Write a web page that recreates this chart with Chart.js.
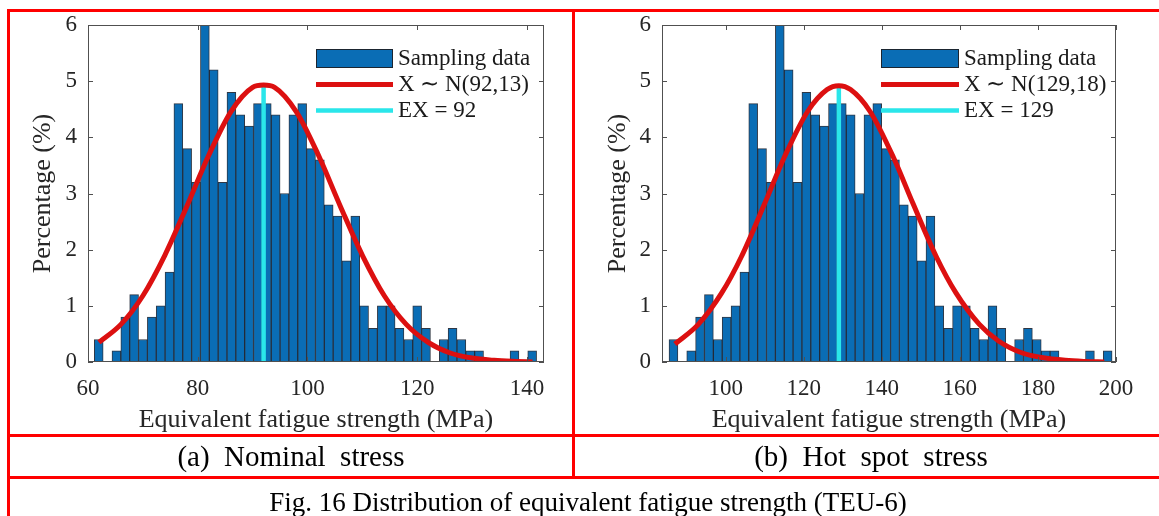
<!DOCTYPE html>
<html>
<head>
<meta charset="utf-8">
<script src="https://cdn.jsdelivr.net/npm/chart.js@4.4.1/dist/chart.umd.min.js"></script>
<style>
  html, body { margin: 0; padding: 0; background: #fff; }
  body { width: 1159px; height: 516px; position: relative; overflow: hidden;
         font-family: "Liberation Serif", "Times New Roman", serif; }
  .pane { position: absolute; top: 0; }
  .rl { position: absolute; background: #ff0000; z-index: 5; }
  .cap { position: absolute; text-align: center; color: #000; white-space: pre; }
</style>
</head>
<body>
<div class="pane" style="left:0"><canvas id="chartA" width="573" height="445"></canvas></div>
<div class="pane" style="left:573px"><canvas id="chartB" width="586" height="445"></canvas></div>

<div class="rl" style="left:7px;top:9px;width:1160px;height:3px"></div>
<div class="rl" style="left:7px;top:9px;width:3px;height:510px"></div>
<div class="rl" style="left:572px;top:9px;width:3px;height:469px"></div>
<div class="rl" style="left:7px;top:434px;width:1160px;height:3px"></div>
<div class="rl" style="left:7px;top:476px;width:1160px;height:3px"></div>

<div class="cap" style="left:9px;width:564px;top:436px;height:40px;line-height:40px;font-size:29px">(a)  Nominal  stress</div>
<div class="cap" style="left:574px;width:594px;top:436px;height:40px;line-height:40px;font-size:29px">(b)  Hot  spot  stress</div>
<div class="cap" style="left:9px;width:1158px;top:479px;height:46px;line-height:46px;font-size:27px">Fig. 16 Distribution of equivalent fatigue strength (TEU-6)</div>

<script>
// histogram: 50 bins, percentage of samples per bin
const binStartNominal = 61.15, binWidthNominal = 1.612;
const pctNominal = [0.4, 0, 0.2, 0.8, 1.2, 0.4, 0.8, 1.0, 1.6, 4.6,
                    3.8, 3.2, 6.0, 5.2, 3.2, 4.8, 4.4, 4.2, 4.6, 4.6,
                    4.4, 3.0, 4.4, 4.6, 3.8, 3.6, 2.8, 2.6, 1.8, 2.6,
                    1.0, 0.6, 1.0, 1.0, 0.6, 0.4, 1.0, 0.6, 0, 0.4,
                    0.6, 0.4, 0.2, 0.2, 0, 0, 0, 0.2, 0, 0.2];
const binStartHot = 85.5, binWidthHot = 2.27;
const pctHot = [0.4, 0, 0.2, 0.8, 1.2, 0.4, 0.8, 1.0, 1.6, 4.6,
                3.8, 3.2, 6.0, 5.2, 3.2, 4.8, 4.4, 4.2, 4.6, 4.6,
                4.4, 3.0, 4.4, 4.6, 3.8, 3.6, 2.8, 2.6, 1.8, 2.6,
                1.0, 0.6, 1.0, 1.0, 0.6, 0.4, 1.0, 0.6, 0, 0.4,
                0.6, 0.4, 0.2, 0.2, 0, 0, 0, 0.2, 0, 0.2];

// fitted normal curves
const fitXNominal = [62, 66, 70, 74, 78, 82, 86, 90, 92, 94, 98, 102, 106, 110, 114, 118, 122, 126, 130, 134, 138, 141];
const fitYNominal = [0.35, 0.67, 1.18, 1.90, 2.77, 3.68, 4.45, 4.89, 4.93, 4.89, 4.45, 3.68, 2.77, 1.90, 1.18, 0.67, 0.35, 0.16, 0.07, 0.03, 0.01, 0.0];
const fitXHot = [87, 93, 99, 104, 110, 115, 121, 126, 129, 132, 137, 143, 148, 154, 159, 165, 170, 176, 181, 187, 192, 197];
const fitYHot = [0.32, 0.67, 1.23, 1.87, 2.82, 3.64, 4.46, 4.85, 4.92, 4.85, 4.46, 3.64, 2.82, 1.87, 1.23, 0.67, 0.37, 0.16, 0.08, 0.03, 0.01, 0.0];

const meanNominal = 92, meanHot = 129, meanLineTop = 4.9;

const xTicksNominal = [60, 80, 100, 120, 140];
const xTicksHot = [100, 120, 140, 160, 180, 200];
const yTicks = [0, 1, 2, 3, 4, 5, 6];

const FONT = '"Liberation Serif", "Times New Roman", serif';
const TEXT = '#262626';
const BAR = '#0a6db5';
const RED = '#dc1010';
const CYAN = '#2ae6ea';

const boxTicks = {
  id: 'boxTicks',
  afterDatasetsDraw(chart) {
    const { ctx, chartArea: a, scales } = chart;
    ctx.save();
    ctx.strokeStyle = '#505050';
    ctx.lineWidth = 1;
    ctx.strokeRect(Math.round(a.left) + 0.5, Math.round(a.top) + 0.5,
                   Math.round(a.right - a.left) - 1, Math.round(a.bottom - a.top) - 1);
    ctx.beginPath();
    scales.x.ticks.forEach(t => {
      const px = Math.round(scales.x.getPixelForValue(t.value)) + 0.5;
      ctx.moveTo(px, a.bottom); ctx.lineTo(px, a.bottom - 5);
      ctx.moveTo(px, a.top); ctx.lineTo(px, a.top + 5);
    });
    scales.y.ticks.forEach(t => {
      const py = Math.round(scales.y.getPixelForValue(t.value)) + 0.5;
      ctx.moveTo(a.left, py); ctx.lineTo(a.left + 5, py);
      ctx.moveTo(a.right, py); ctx.lineTo(a.right - 5, py);
    });
    ctx.stroke();
    ctx.restore();
  }
};

const innerLegend = {
  id: 'innerLegend',
  afterDraw(chart, args, o) {
    const ctx = chart.ctx;
    ctx.save();
    ctx.font = '23px ' + FONT;
    ctx.textBaseline = 'middle';
    chart.data.datasets.forEach((d, i) => {
      const cy = o.y + i * o.dy;
      if (d.type === 'line') {
        ctx.strokeStyle = d.borderColor;
        ctx.lineWidth = d.borderWidth;
        ctx.beginPath();
        ctx.moveTo(o.x, cy); ctx.lineTo(o.x + o.w, cy);
        ctx.stroke();
      } else {
        ctx.fillStyle = d.backgroundColor;
        ctx.fillRect(o.x, cy - 9.5, o.w, 19);
        ctx.strokeStyle = '#1b2530';
        ctx.lineWidth = 1;
        ctx.strokeRect(o.x + 0.5, cy - 9, o.w - 1, 18);
      }
      ctx.fillStyle = '#1a1a1a';
      ctx.fillText(d.label, o.x + o.w + o.gap, cy);
    });
    ctx.restore();
  }
};

function makeChart(id, cfg) {
  const bars = cfg.pct.map((v, i) => ({ x: cfg.binStart + (i + 0.5) * cfg.binWidth, y: v }));
  const fit = cfg.fitX.map((x, i) => ({ x: x, y: cfg.fitY[i] }));
  return new Chart(document.getElementById(id), {
    type: 'bar',
    data: {
      datasets: [
        {
          type: 'bar',
          label: 'Sampling data',
          data: bars,
          backgroundColor: BAR,
          borderColor: 'rgba(10,20,35,0.85)',
          borderWidth: 1,
          borderSkipped: false,
          barPercentage: 1,
          categoryPercentage: 1,
          order: 3
        },
        {
          type: 'line',
          label: cfg.fitLabel,
          data: fit,
          borderColor: RED,
          borderWidth: 5,
          pointRadius: 0,
          fill: false,
          cubicInterpolationMode: 'monotone',
          order: 1
        },
        {
          type: 'line',
          label: cfg.meanLabel,
          data: [{ x: cfg.mean, y: 0 }, { x: cfg.mean, y: meanLineTop }],
          borderColor: CYAN,
          borderWidth: 4.5,
          pointRadius: 0,
          fill: false,
          order: 2
        }
      ]
    },
    options: {
      responsive: false,
      animation: false,
      layout: { padding: cfg.padding },
      plugins: {
        legend: { display: false },
        tooltip: { enabled: false },
        innerLegend: cfg.legend
      },
      scales: {
        x: {
          type: 'linear',
          min: cfg.xMin,
          max: cfg.xMax,
          offset: false,
          afterBuildTicks: s => { s.ticks = cfg.xTicks.map(v => ({ value: v })); },
          afterFit: s => { s.height = 78; },
          grid: { display: false, drawTicks: false },
          border: { display: false },
          ticks: { padding: 13, color: TEXT, maxRotation: 0, font: { family: FONT, size: 23 } },
          title: {
            display: true,
            text: 'Equivalent fatigue strength (MPa)',
            color: TEXT,
            font: { family: FONT, size: 26 },
            padding: { top: 0, bottom: 4 }
          }
        },
        y: {
          min: 0,
          max: 6,
          afterBuildTicks: s => { s.ticks = yTicks.map(v => ({ value: v })); },
          afterFit: s => { s.width = cfg.yWidth; },
          grid: { display: false, drawTicks: false },
          border: { display: false },
          ticks: { padding: 11, color: TEXT, font: { family: FONT, size: 23 } },
          title: {
            display: true,
            text: 'Percentage (%)',
            color: TEXT,
            font: { family: FONT, size: 26 },
            padding: { top: 4, bottom: 0 }
          }
        }
      }
    },
    plugins: [boxTicks, innerLegend]
  });
}

makeChart('chartA', {
  pct: pctNominal, binStart: binStartNominal, binWidth: binWidthNominal,
  fitX: fitXNominal, fitY: fitYNominal, mean: meanNominal,
  fitLabel: 'X \u223C N(92,13)', meanLabel: 'EX = 92',
  xMin: 60, xMax: 143.1, xTicks: xTicksNominal,
  yWidth: 64,
  padding: { left: 24, right: 29, top: 25, bottom: 5 },
  legend: { x: 316, y: 58.5, dy: 26, w: 77, gap: 5 }
});

makeChart('chartB', {
  pct: pctHot, binStart: binStartHot, binWidth: binWidthHot,
  fitX: fitXHot, fitY: fitYHot, mean: meanHot,
  fitLabel: 'X \u223C N(129,18)', meanLabel: 'EX = 129',
  xMin: 83.7, xMax: 200, xTicks: xTicksHot,
  yWidth: 63,
  padding: { left: 26, right: 43, top: 25, bottom: 5 },
  legend: { x: 308, y: 58.5, dy: 26, w: 78, gap: 5 }
});
</script>
</body>
</html>
